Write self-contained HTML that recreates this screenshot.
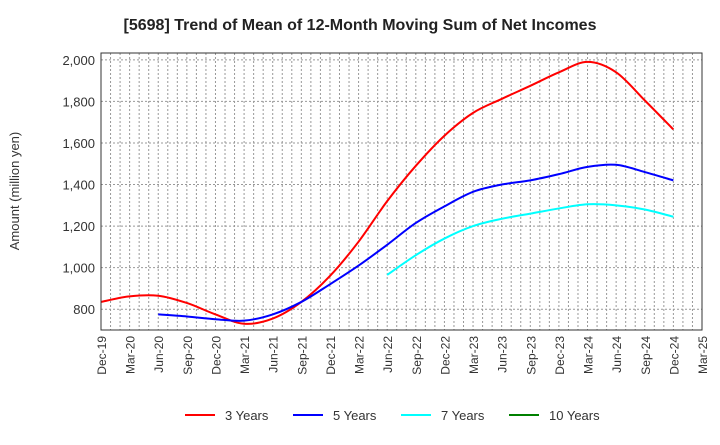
<!DOCTYPE html>
<html><head><meta charset="utf-8"><style>
body{margin:0;background:#fff;font-family:"Liberation Sans",sans-serif}
</style></head><body>
<svg id="c" width="720" height="440" xmlns="http://www.w3.org/2000/svg">
<text x="360" y="30" text-anchor="middle" font-size="16" font-weight="bold" fill="#222">[5698]  Trend of Mean of 12-Month Moving Sum of Net Incomes</text>
<text transform="translate(19,191) rotate(-90)" text-anchor="middle" font-size="13" fill="#333">Amount (million yen)</text>
<g id="grid"></g><g id="series"></g><g id="axes"></g><g id="legend"></g>
</svg>
<script>
const xLabels=["Dec-19","Mar-20","Jun-20","Sep-20","Dec-20","Mar-21","Jun-21","Sep-21","Dec-21","Mar-22","Jun-22","Sep-22","Dec-22","Mar-23","Jun-23","Sep-23","Dec-23","Mar-24","Jun-24","Sep-24","Dec-24","Mar-25"];
const yTicks=[800,1000,1200,1400,1600,1800,2000];
const y3=[835,862,865,830,775,730,755,835,960,1125,1320,1490,1635,1745,1812,1875,1940,1990,1940,1805,1665];
const y5=[null,null,775,765,752,745,775,835,920,1010,1110,1215,1295,1365,1400,1420,1450,1485,1495,1460,1420];
const y7=[null,null,null,null,null,null,null,null,null,null,965,1060,1140,1200,1235,1260,1285,1305,1300,1280,1245];
const y10=[];
const names=["3 Years","5 Years","7 Years","10 Years"];
const colors=["#ff0000","#0000ff","#00ffff","#008000"];
const L=101,R=702,T=53,B=330,yMin=700,yMax=2033;
const X=i=>L+i*(R-L)/(xLabels.length-1);
const Y=v=>B-(v-yMin)*(B-T)/(yMax-yMin);
const NS="http://www.w3.org/2000/svg";
function mk(t,a,p){const e=document.createElementNS(NS,t);for(const k in a)e.setAttribute(k,a[k]);p.appendChild(e);return e;}
const g=document.getElementById('grid'),ax=document.getElementById('axes'),sg=document.getElementById('series'),lg=document.getElementById('legend');
for(let m=1;m<(xLabels.length-1)*3;m++){const x=L+m*(R-L)/((xLabels.length-1)*3);
const l=mk('line',{x1:x,x2:x,y1:T,y2:B,stroke:'#999','stroke-dasharray':'2,2','stroke-width':1},g);

}
yTicks.forEach(v=>{const l=mk('line',{x1:L,x2:R,y1:Y(v),y2:Y(v),stroke:'#999','stroke-dasharray':'2,2'},g);


const t=mk('text',{x:L-6,y:Y(v)+5,'text-anchor':'end','font-size':13,fill:'#333'},ax);t.textContent=v.toLocaleString('en-US');

});
const fr=mk('rect',{x:L,y:T,width:R-L,height:B-T,fill:'none',stroke:'#333'},ax);


xLabels.forEach((s,i)=>{const t=mk('text',{transform:`translate(${X(i)+5},${B+6}) rotate(-90)`,'text-anchor':'end','font-size':12,fill:'#333'},ax);t.textContent=s;

});
function path(arr){const p=[];arr.forEach((v,i)=>{if(v!=null)p.push([X(i),Y(v)]);});if(p.length<2)return '';
let d=`M${p[0][0]},${p[0][1]}`;for(let i=0;i<p.length-1;i++){const p0=p[i-1]||p[i],p1=p[i],p2=p[i+1],p3=p[i+2]||p2;
d+=` C${p1[0]+(p2[0]-p0[0])/6},${p1[1]+(p2[1]-p0[1])/6} ${p2[0]-(p3[0]-p1[0])/6},${p2[1]-(p3[1]-p1[1])/6} ${p2[0]},${p2[1]}`;}return d;}
[y3,y5,y7,y10].forEach((a,k)=>{const d=path(a);if(d){const e=mk('path',{d,fill:'none',stroke:colors[k],'stroke-width':2},sg);

}});
const lx=[185,293,401,509];
names.forEach((n,k)=>{const gg=mk('g',{},lg);


mk('line',{x1:lx[k],x2:lx[k]+30,y1:415,y2:415,stroke:colors[k],'stroke-width':2},gg);
const t=mk('text',{x:lx[k]+40,y:420,'font-size':13,fill:'#333'},gg);t.textContent=n;});
</script>
</body></html>
